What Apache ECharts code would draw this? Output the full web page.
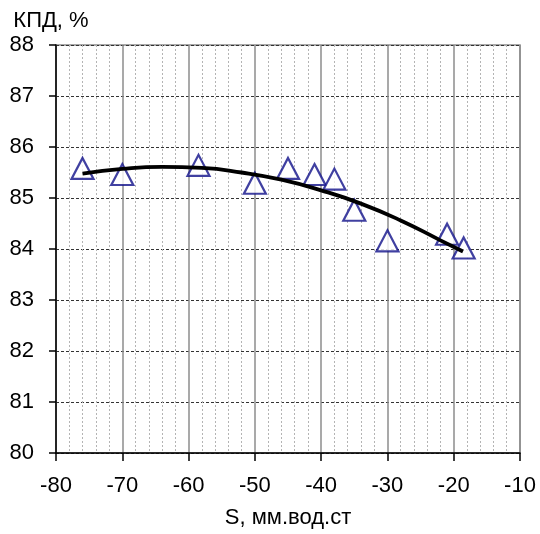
<!DOCTYPE html>
<html>
<head>
<meta charset="utf-8">
<script src="https://cdn.jsdelivr.net/npm/echarts@6/dist/echarts.min.js"></script>
<style>
  html, body { margin: 0; padding: 0; background: #fff; }
  #chart { width: 540px; height: 534px; }
</style>
</head>
<body>
<div id="chart"></div>
<script>
// Measured points: draught S (mm w.c.) vs. efficiency (%)
const sValues = [-76, -70, -58.5, -50, -45, -41, -38, -35, -30, -21, -18.5];
const effValues = [85.58, 85.46, 85.64, 85.29, 85.58, 85.46, 85.37, 84.76, 84.16, 84.29, 84.02];

// Trend curve through the measurements
const trendS = [-76, -70, -64, -58, -52, -46, -40, -34, -28, -22, -18.6];
const trendEff = [85.48, 85.57, 85.61, 85.59, 85.50, 85.36, 85.15, 84.89, 84.56, 84.17, 83.95];

const font = '"Liberation Sans", Arial, sans-serif';

const chart = echarts.init(document.getElementById('chart'), null, { renderer: 'canvas' });

chart.setOption({
  animation: false,
  backgroundColor: '#fff',
  grid: {
    left: 56, right: 20, top: 45, bottom: 79,
    show: true, borderColor: '#8c8c8c', borderWidth: 1.5, backgroundColor: 'transparent'
  },
  xAxis: {
    type: 'value',
    min: -80, max: -10, interval: 10,
    name: 'S, мм.вод.ст',
    nameLocation: 'middle',
    nameGap: 54,
    nameTextStyle: { color: '#000', fontSize: 22, fontFamily: font },
    axisLine: { show: true, onZero: false, lineStyle: { color: '#000', width: 1.5 } },
    axisTick: { show: true, length: 8, lineStyle: { color: '#000', width: 1.5 } },
    axisLabel: { color: '#000', fontSize: 22, fontFamily: font, margin: 22 },
    splitLine: { show: true, lineStyle: { color: '#8c8c8c', width: 1.5, type: 'solid' } },
    minorTick: { show: false, splitNumber: 5 },
    minorSplitLine: { show: true, lineStyle: { color: '#b4b4b4', width: 1, type: [2, 2] } }
  },
  yAxis: {
    type: 'value',
    min: 80, max: 88, interval: 1,
    name: 'КПД, %',
    nameLocation: 'end',
    nameGap: 13,
    nameTextStyle: { color: '#000', fontSize: 22, fontFamily: font, padding: [0, 10, 0, 0] },
    axisLine: { show: true, onZero: false, lineStyle: { color: '#000', width: 1.5 } },
    axisTick: { show: true, length: 7, lineStyle: { color: '#000', width: 1.5 } },
    axisLabel: { color: '#000', fontSize: 22, fontFamily: font, margin: 22 },
    splitLine: { show: true, lineStyle: { color: '#333', width: 1, type: [3, 2] } }
  },
  series: [
    {
      type: 'scatter',
      data: sValues.map((s, i) => [s, effValues[i]]),
      symbol: 'triangle',
      symbolSize: [22, 21],
      itemStyle: { color: '#fff', borderColor: '#10108a', borderWidth: 2.2 },
      z: 3
    },
    {
      type: 'line',
      data: trendS.map((s, i) => [s, trendEff[i]]),
      smooth: true,
      showSymbol: false,
      lineStyle: { color: '#000', width: 3.8 },
      z: 4
    }
  ]
});
</script>
</body>
</html>
